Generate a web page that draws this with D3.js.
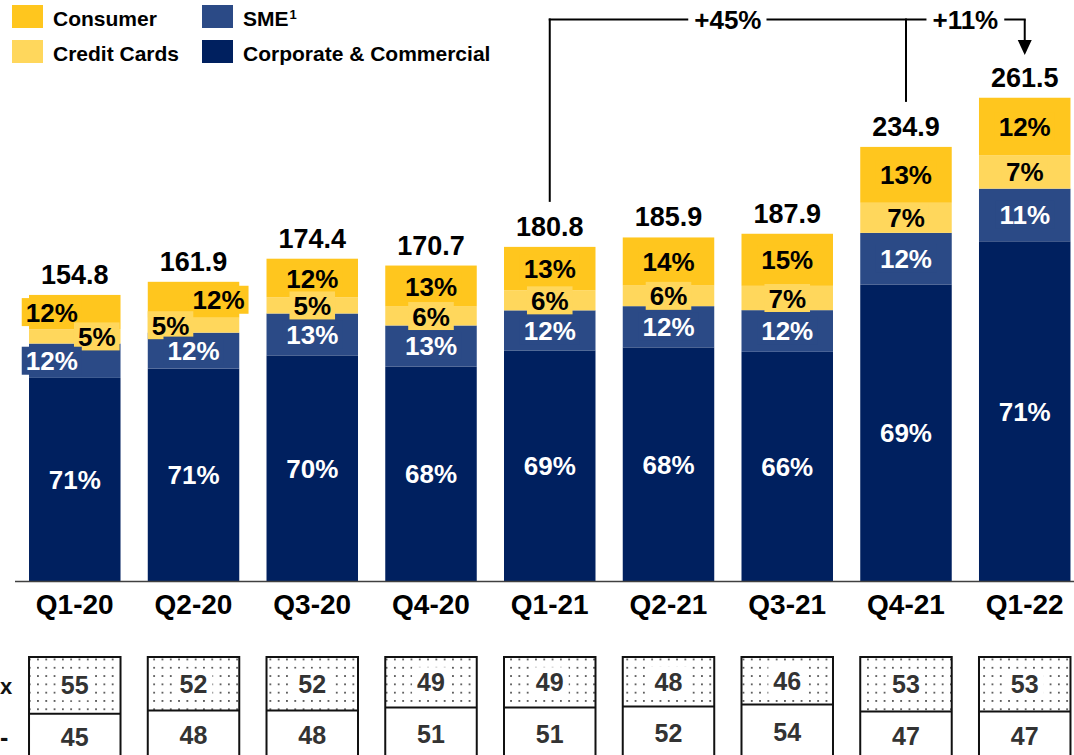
<!DOCTYPE html>
<html>
<head>
<meta charset="utf-8">
<script src="https://cdn.jsdelivr.net/npm/d3@7"></script>
<style>
  html, body { margin: 0; padding: 0; background: #fff; overflow: hidden; }
  svg { display: block; font-family: "Liberation Sans", Arial, sans-serif; }
</style>
</head>
<body>
<svg id="chart" width="1074" height="755"></svg>
<script>
// ---------------- data ----------------
const categories = ["Q1-20", "Q2-20", "Q3-20", "Q4-20", "Q1-21", "Q2-21", "Q3-21", "Q4-21", "Q1-22"];
const totals = [154.8, 161.9, 174.4, 170.7, 180.8, 185.9, 187.9, 234.9, 261.5];
const corporate = [71, 71, 70, 68, 69, 68, 66, 69, 71];
const sme = [12, 12, 13, 13, 12, 12, 12, 12, 11];
const creditCards = [5, 5, 5, 6, 6, 6, 7, 7, 7];
const consumer = [12, 12, 12, 13, 13, 14, 15, 13, 12];
const shareTop = [55, 52, 52, 49, 49, 48, 46, 53, 53];
const shareBottom = [45, 48, 48, 51, 51, 52, 54, 47, 47];
const seriesNames = ["Corporate & Commercial", "SME", "Credit Cards", "Consumer"];
const growth = [
  { from: "Q1-21", mid: "Q4-21", label: "+45%" },
  { from: "Q4-21", mid: "Q1-22", label: "+11%" }
];

// ---------------- styles / layout ----------------
const colors = {
  "Corporate & Commercial": "#00205F",
  "SME": "#2B4A86",
  "Credit Cards": "#FFD75C",
  "Consumer": "#FFC61E"
};
const textColors = {
  "Corporate & Commercial": "#ffffff",
  "SME": "#ffffff",
  "Credit Cards": "#000000",
  "Consumer": "#000000"
};
// horizontal nudges of some percentage labels (layout only)
const labelShift = {
  "Q1-20": { "Consumer": -23, "Credit Cards": 22, "SME": -23 },
  "Q2-20": { "Consumer": 25, "Credit Cards": -23 }
};

const svg = d3.select("#chart");
const baseY = 581;

const x = d3.scaleBand()
  .domain(categories)
  .range([15.4, 1084.1])
  .paddingInner(0.2295)
  .paddingOuter(0.1147);

const y = d3.scaleLinear().domain([0, 300]).range([baseY, baseY - 1.848 * 300]);

// build stacked rows
const rows = categories.map((c, i) => {
  const pcts = [corporate[i], sme[i], creditCards[i], consumer[i]];
  const sum = d3.sum(pcts);
  let acc = 0;
  const segs = pcts.map((p, k) => {
    const v = totals[i] * p / sum;
    const s = { cat: c, series: seriesNames[k], pct: p, y0: acc, y1: acc + v };
    acc += v;
    return s;
  });
  return { cat: c, total: totals[i], segs };
});

// ---------------- bars ----------------
const gBars = svg.append("g");
rows.forEach(r => {
  gBars.selectAll(null)
    .data(r.segs)
    .enter().append("rect")
    .attr("x", d => x(d.cat))
    .attr("width", x.bandwidth())
    .attr("y", d => y(d.y1))
    .attr("height", d => y(d.y0) - y(d.y1))
    .attr("fill", d => colors[d.series]);
});

// axis line
svg.append("line")
  .attr("x1", 15).attr("x2", 1074)
  .attr("y1", baseY + 0.5).attr("y2", baseY + 0.5)
  .attr("stroke", "#404040").attr("stroke-width", 1.5);

// ---------------- percentage labels ----------------
const pctFont = 26;
const gBoxes = svg.append("g");
const gLabels = svg.append("g");
const measure = svg.append("text").attr("font-size", pctFont).attr("font-weight", "bold").attr("opacity", 0);
function textWidth(t, size) {
  measure.attr("font-size", size).text(t);
  return measure.node().getComputedTextLength();
}
const boxOrder = ["Consumer", "Credit Cards", "SME"];
rows.forEach(r => {
  const cx = x(r.cat) + x.bandwidth() / 2;
  boxOrder.forEach(sn => {
    const d = r.segs.find(s => s.series === sn);
    const dx = (labelShift[r.cat] && labelShift[r.cat][sn]) || 0;
    const cy = (y(d.y0) + y(d.y1)) / 2;
    const w = textWidth(d.pct + "%", pctFont) + 8;
    gBoxes.append("rect")
      .attr("x", cx + dx - w / 2)
      .attr("y", cy - 14)
      .attr("width", w)
      .attr("height", 28)
      .attr("fill", colors[sn]);
  });
  r.segs.forEach(d => {
    const dx = (labelShift[r.cat] && labelShift[r.cat][d.series]) || 0;
    const cy = (y(d.y0) + y(d.y1)) / 2;
    gLabels.append("text")
      .attr("x", cx + dx)
      .attr("y", cy + 9.5)
      .attr("text-anchor", "middle")
      .attr("font-size", pctFont)
      .attr("font-weight", "bold")
      .attr("fill", textColors[d.series])
      .text(d.pct + "%");
  });
});

// totals
svg.append("g").selectAll("text")
  .data(rows).enter().append("text")
  .attr("x", d => x(d.cat) + x.bandwidth() / 2)
  .attr("y", d => y(d.total) - 11)
  .attr("text-anchor", "middle")
  .attr("font-size", 27)
  .attr("font-weight", "bold")
  .attr("fill", "#000")
  .text(d => d3.format(".1f")(d.total));

// category labels
svg.append("g").selectAll("text")
  .data(categories).enter().append("text")
  .attr("x", d => x(d) + x.bandwidth() / 2)
  .attr("y", 614)
  .attr("text-anchor", "middle")
  .attr("font-size", 28)
  .attr("font-weight", "bold")
  .attr("fill", "#000")
  .text(d => d);

// ---------------- growth brackets ----------------
const lineY = 19.5;
const gG = svg.append("g").attr("stroke", "#000").attr("stroke-width", 2).attr("fill", "none");
const cxOf = c => x(c) + x.bandwidth() / 2;
const totOf = c => totals[categories.indexOf(c)];
const lastCat = categories[categories.length - 1];
growth.forEach(g => {
  gG.append("line")
    .attr("x1", cxOf(g.from)).attr("x2", cxOf(g.from))
    .attr("y1", y(totOf(g.from)) - 45).attr("y2", lineY - 1);
});
const gapPad = 6;
let segStart = cxOf(growth[0].from);
growth.forEach(g => {
  const tc = (cxOf(g.from) + cxOf(g.mid)) / 2;
  const tw = textWidth(g.label, 26);
  gG.append("line")
    .attr("x1", segStart - 1).attr("x2", tc - tw / 2 - gapPad)
    .attr("y1", lineY).attr("y2", lineY);
  segStart = tc + tw / 2 + gapPad;
  svg.append("text")
    .attr("x", tc).attr("y", lineY + 9.5)
    .attr("text-anchor", "middle")
    .attr("font-size", 26).attr("font-weight", "bold")
    .attr("fill", "#000")
    .text(g.label);
});
const ax = cxOf(lastCat);
gG.append("line").attr("x1", segStart).attr("x2", ax + 1).attr("y1", lineY).attr("y2", lineY);
gG.append("line").attr("x1", ax).attr("x2", ax).attr("y1", lineY).attr("y2", 42);
svg.append("path")
  .attr("d", `M${ax - 7},40 L${ax + 7},40 L${ax},55 Z`)
  .attr("fill", "#000");

// ---------------- legend ----------------
const legendItems = [
  { name: "Consumer", label: "Consumer", col: 0, row: 0 },
  { name: "Credit Cards", label: "Credit Cards", col: 0, row: 1 },
  { name: "SME", label: "SME", col: 1, row: 0, sup: "1" },
  { name: "Corporate & Commercial", label: "Corporate & Commercial", col: 1, row: 1 }
];
const legX = [12, 202], legY = [5, 40];
legendItems.forEach(it => {
  svg.append("rect")
    .attr("x", legX[it.col]).attr("y", legY[it.row])
    .attr("width", 31).attr("height", 23)
    .attr("fill", colors[it.name]);
  const t = svg.append("text")
    .attr("x", legX[it.col] + 41).attr("y", legY[it.row] + 21)
    .attr("font-size", 21).attr("font-weight", "bold").attr("fill", "#000")
    .text(it.label);
  if (it.sup) {
    t.append("tspan").attr("font-size", 13).attr("dy", -7).attr("dx", 1).text(it.sup);
  }
});

// ---------------- bottom share table ----------------
const defs = svg.append("defs");
const pat = defs.append("pattern")
  .attr("id", "dots").attr("patternUnits", "userSpaceOnUse")
  .attr("width", 8.3).attr("height", 8.3).attr("x", 2).attr("y", 1);
pat.append("rect").attr("width", 8.3).attr("height", 8.3).attr("fill", "#fff");
pat.append("rect").attr("x", 2).attr("y", 2).attr("width", 1.5).attr("height", 1.5).attr("fill", "#111");

const tTop = 657;
const sY = d3.scaleLinear().domain([0, 100]).range([tTop, tTop + 103]);
const gT = svg.append("g");
categories.forEach((c, i) => {
  const bx = x(c), bw = x.bandwidth();
  const mid = sY(shareTop[i]);
  gT.append("rect").attr("x", bx).attr("y", tTop).attr("width", bw).attr("height", mid - tTop)
    .attr("fill", "url(#dots)");
  const tw = textWidth(String(shareTop[i]), 25) + 10;
  gT.append("rect").attr("x", bx + bw / 2 - tw / 2).attr("y", (tTop + mid) / 2 - 15)
    .attr("width", tw).attr("height", 30).attr("fill", "#fff");
  gT.append("rect").attr("x", bx).attr("y", mid).attr("width", bw).attr("height", sY(100) - mid)
    .attr("fill", "#fff");
  gT.append("rect").attr("x", bx).attr("y", tTop).attr("width", bw).attr("height", sY(100) - tTop)
    .attr("fill", "none").attr("stroke", "#111").attr("stroke-width", 2);
  gT.append("line").attr("x1", bx).attr("x2", bx + bw).attr("y1", mid).attr("y2", mid)
    .attr("stroke", "#111").attr("stroke-width", 2);
  gT.append("text").attr("x", bx + bw / 2).attr("y", (tTop + mid) / 2 + 9)
    .attr("text-anchor", "middle").attr("font-size", 25).attr("font-weight", "bold")
    .attr("fill", "#333").text(shareTop[i]);
  gT.append("text").attr("x", bx + bw / 2).attr("y", (mid + sY(100)) / 2 + 9)
    .attr("text-anchor", "middle").attr("font-size", 25).attr("font-weight", "bold")
    .attr("fill", "#333").text(shareBottom[i]);
});
// row markers at the left edge
svg.append("text").attr("x", 0).attr("y", 694).attr("text-anchor", "start")
  .attr("font-size", 22).attr("font-weight", "bold").attr("fill", "#111").text("x");
svg.append("text").attr("x", 0).attr("y", 746).attr("text-anchor", "start")
  .attr("font-size", 25).attr("font-weight", "bold").attr("fill", "#111").text("-");

measure.remove();
</script>
</body>
</html>
